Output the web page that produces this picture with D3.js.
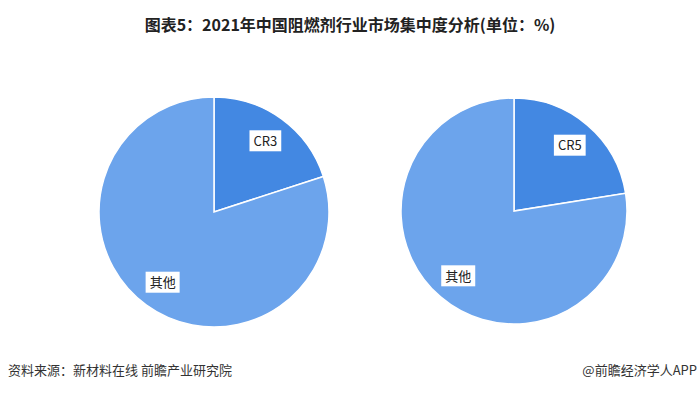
<!DOCTYPE html>
<html>
<head>
<meta charset="utf-8">
<script src="https://cdn.jsdelivr.net/npm/d3@7"></script>
<style>
  body { margin: 0; background: #fff; }
  svg { display: block; font-family: "Noto Sans CJK SC", "Noto Sans", sans-serif; }
</style>
</head>
<body>
<div id="chart"></div>
<script>
const width = 700;
const height = 395;

// values in %
const leftLabels = ['CR3', '其他'];
const leftValues = [20.0, 80.0];
const rightLabels = ['CR5', '其他'];
const rightValues = [22.5, 77.5];

const sliceColors = ['#4388e2', '#6ca4ec'];

const svg = d3.select('#chart')
  .append('svg')
  .attr('width', width)
  .attr('height', height);

// title
svg.append('text')
  .attr('x', 350)
  .attr('y', 31)
  .attr('text-anchor', 'middle')
  .attr('font-size', 16)
  .attr('font-weight', 'bold')
  .attr('fill', '#222')
  .text('图表5：2021年中国阻燃剂行业市场集中度分析(单位：%)');

function drawPie(cx, cy, r, labels, values) {
  const pie = d3.pie().sort(null).value((d) => d);
  const arcs = pie(values);
  const arc = d3.arc().innerRadius(0).outerRadius(r);
  const labelArc = d3.arc().innerRadius(r * 0.76).outerRadius(r * 0.76);

  const g = svg.append('g').attr('transform', `translate(${cx}, ${cy})`);

  g.selectAll('path')
    .data(arcs)
    .join('path')
    .attr('d', arc)
    .attr('fill', (d, i) => sliceColors[i])
    .attr('stroke', '#fff')
    .attr('stroke-width', 1.5);

  const lab = g.selectAll('g.lab')
    .data(arcs)
    .join('g')
    .attr('class', 'lab')
    .attr('transform', (d) => `translate(${labelArc.centroid(d)})`);

  lab.append('rect')
    .attr('x', -14)
    .attr('y', -11)
    .attr('width', 28)
    .attr('height', 21)
    .attr('fill', '#fff');

  lab.append('text')
    .attr('text-anchor', 'middle')
    .attr('dy', '0.35em')
    .attr('font-size', 13)
    .attr('fill', '#222')
    .text((d, i) => labels[i]);

  // size the white boxes to their text
  lab.each(function () {
    const t = d3.select(this).select('text').node().getBBox();
    d3.select(this).select('rect')
      .attr('x', t.x - 4)
      .attr('width', t.width + 8);
  });
}

drawPie(214, 212, 115, leftLabels, leftValues);
drawPie(514, 211, 113, rightLabels, rightValues);

// footer
svg.append('text')
  .attr('x', 8)
  .attr('y', 375)
  .attr('font-size', 13)
  .attr('fill', '#333')
  .text('资料来源：新材料在线 前瞻产业研究院');

svg.append('text')
  .attr('x', 697)
  .attr('y', 375)
  .attr('text-anchor', 'end')
  .attr('font-size', 13)
  .attr('fill', '#333')
  .text('@前瞻经济学人APP');
</script>
</body>
</html>
